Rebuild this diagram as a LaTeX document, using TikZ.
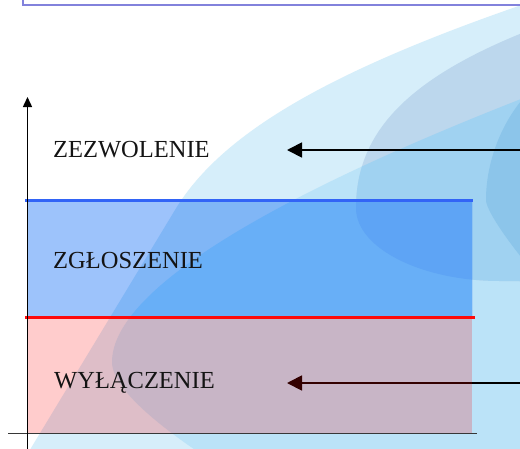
\documentclass[tikz,border=0pt]{standalone}
\usepackage{fontspec}
\setmainfont{Liberation Serif}
\usetikzlibrary{arrows.meta}
\definecolor{colA}{RGB}{214,238,250}
\definecolor{colB}{RGB}{187,227,248}
\definecolor{colCA}{RGB}{188,215,237}
\definecolor{colCB}{RGB}{160,210,241}
\definecolor{colD}{RGB}{140,197,234}
\definecolor{rW}{RGB}{157,195,251}
\definecolor{rA}{RGB}{128,182,246}
\definecolor{rB}{RGB}{104,175,247}
\definecolor{rC}{RGB}{94,164,245}
\definecolor{lineblue}{RGB}{50,100,246}
\definecolor{linered}{RGB}{255,10,10}
\definecolor{boxpurple}{RGB}{130,130,220}
\definecolor{axisgrey}{RGB}{55,55,55}
\def\pathA{(25,458) -- (175,210) .. controls (223,130) and (339,65) .. (560,-8) -- (660,-8) -- (660,520) -- (25,520) -- cycle}
\def\pathB{(560,84) .. controls (291,186) and (112,286) .. (112,362) .. controls (112,394) and (181,443.5) .. (250,485) -- (660,485) -- (660,84) -- cycle}
\def\pathC{(500,281) .. controls (421,281) and (356,248) .. (356,208) .. controls (356,130) and (411,75) .. (540,26) -- (660,-10) -- (660,283) -- cycle}
\def\pathD{(530,268) .. controls (503.6,236.2) and (486,209) .. (486,200) .. controls (486,155) and (507.6,107.8) .. (540,82) -- (660,40) -- (660,290) -- cycle}
\begin{document}
\begin{tikzpicture}[x=1pt,y=-1pt,
  lbl/.style={anchor=base west, inner sep=0pt, font=\fontsize{24.5}{29}\selectfont, text=black!92},
  arr/.style={line width=1.8pt, black, -{Triangle[length=15pt,width=15pt]}},
  yaxis/.style={line width=1.5pt, black, -{Triangle[length=10pt,width=9pt]}},
  xaxis/.style={line width=1.5pt, axisgrey},
  band/.style={line width=3pt}]
\useasboundingbox (0,0) rectangle (520,448);
\fill[white] (0,0) rectangle (520,448);
% background shapes
\begin{scope}
\clip (0,0) rectangle (520,448);
\fill[colA] \pathA;
\fill[colB] \pathB;
\begin{scope}
\clip \pathC;
\fill[colCA] (0,0) rectangle (660,520);
\fill[colCB] \pathB;
\end{scope}
\begin{scope}
\clip \pathB;
\fill[colD] \pathD;
\end{scope}
% blue band
\begin{scope}
\clip (27,200) rectangle (472,317);
\fill[rW] (0,0) rectangle (520,448);
\fill[rA] \pathA;
\fill[rB] \pathB;
\begin{scope}
\clip \pathC;
\fill[rC] \pathB;
\end{scope}
\end{scope}
% top box
\draw[line width=2pt, boxpurple, fill=white] (23,-20) rectangle (580,4.5);
\end{scope}
% arrows
\coordinate (zsrc) at (522,150);
\coordinate (ztip) at (287,150);
\coordinate (wsrc) at (522,383);
\coordinate (wtip) at (287,383);
\draw[arr] (zsrc) -- (ztip);
\draw[arr] (wsrc) -- (wtip);
% pink band (on top of the arrow)
\fill[red, opacity=0.2] (27,317) rectangle (472,433);
% axes and band lines
\coordinate (xl) at (8,433.5);
\coordinate (xr) at (477,433.5);
\draw[xaxis] (xl) -- (xr);
\coordinate (b1) at (25,200);
\coordinate (b2) at (473,200);
\draw[band, lineblue] (b1) -- (b2);
\coordinate (r1) at (25,317);
\coordinate (r2) at (475,317);
\draw[band, linered] (r1) -- (r2);
\coordinate (ybot) at (27.5,450);
\coordinate (ytop) at (27.5,97);
\draw[yaxis] (ybot) -- (ytop);
% labels
\node[lbl] (zez) at (53,157) {ZEZWOLENIE};
\node[lbl] (zgl) at (53,268) {ZGŁOSZENIE};
\node[lbl] (wyl) at (54,388) {WYŁĄCZENIE};
\end{tikzpicture}
\end{document}
